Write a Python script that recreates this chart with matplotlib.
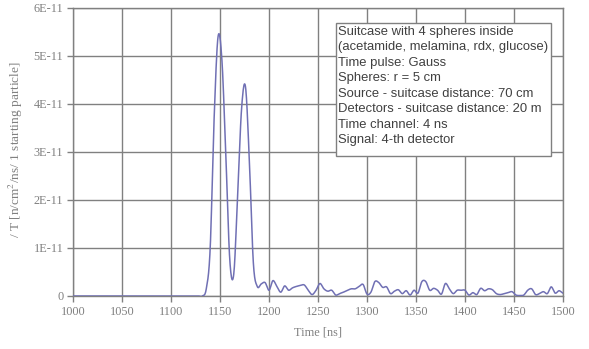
import numpy as np
import matplotlib.pyplot as plt
from matplotlib.patches import Rectangle

plt.rcParams['mathtext.fontset'] = 'stix'

# time channels (4 ns) and signal in units of 1E-11
time_ns = np.arange(1000, 1501, 4)
signal_e11 = [0.0] * 34 + [
    0.15, 1.0, 3.7, 5.4, 4.9, 2.9, 0.75, 0.45, 2.1, 3.9,
    4.36, 2.8, 0.7, 0.2, 0.25, 0.28, 0.12, 0.32, 0.2, 0.08,
    0.21, 0.12, 0.17, 0.2, 0.22, 0.23, 0.12, 0.03, 0.12, 0.26,
    0.15, 0.1, 0.12, 0.02, 0.05, 0.08, 0.12, 0.15, 0.15, 0.2,
    0.24, 0.04, 0.08, 0.3, 0.28, 0.18, 0.19, 0.05, 0.1, 0.13,
    0.05, 0.11, 0.02, 0.12, 0.06, 0.3, 0.3, 0.12, 0.16, 0.12,
    0.04, 0.26, 0.15, 0.05, 0.12, 0.12, 0.12, 0.02, 0.07, 0.03,
    0.16, 0.11, 0.15, 0.13, 0.05, 0.03, 0.05, 0.07, 0.09, 0.02,
    0.01, 0.02, 0.12, 0.15, 0.03, 0.05, 0.09, 0.05, 0.19, 0.06,
    0.11, 0.06,
]
signal = np.array(signal_e11) * 1e-11

y_ticks = [0, 1e-11, 2e-11, 3e-11, 4e-11, 5e-11, 6e-11]
y_tick_labels = ['0', '1E-11', '2E-11', '3E-11', '4E-11', '5E-11', '6E-11']
x_ticks = list(range(1000, 1501, 50))

info_lines = [
    'Suitcase with 4 spheres inside',
    '(acetamide, melamina, rdx, glucose)',
    'Time pulse: Gauss',
    'Spheres: r = 5 cm',
    'Source - suitcase distance: 70 cm',
    'Detectors - suitcase distance: 20 m',
    'Time channel: 4 ns',
    'Signal: 4-th detector',
]


def smooth_line(x, y, n=12):
    # Catmull-Rom curve through the points, like a spreadsheet "smoothed line"
    x = np.asarray(x, float)
    y = np.asarray(y, float)
    px = np.concatenate([[2 * x[0] - x[1]], x, [2 * x[-1] - x[-2]]])
    py = np.concatenate([[y[0]], y, [y[-1]]])
    t = np.linspace(0, 1, n, endpoint=False)
    xs, ys = [], []
    for i in range(1, len(px) - 2):
        for arr, out in ((px, xs), (py, ys)):
            p0, p1, p2, p3 = arr[i - 1], arr[i], arr[i + 1], arr[i + 2]
            out.extend(0.5 * (2 * p1 + (-p0 + p2) * t
                              + (2 * p0 - 5 * p1 + 4 * p2 - p3) * t ** 2
                              + (-p0 + 3 * p1 - 3 * p2 + p3) * t ** 3))
    xs.append(x[-1])
    ys.append(y[-1])
    return np.array(xs), np.array(ys)


W, H = 589, 349
grey = '#808080'
fig = plt.figure(figsize=(W / 100, H / 100), dpi=100)
ax = fig.add_axes([73 / W, 1 - 296 / H, (563 - 73) / W, (296 - 8) / H])

sx, sy = smooth_line(time_ns, signal)
ax.plot(sx, sy, color='#7070b4', lw=1.1, zorder=3)

ax.set_xlim(1000, 1500)
ax.set_ylim(0, 6e-11)
ax.set_xticks(x_ticks)
ax.set_xticklabels([str(v) for v in x_ticks], fontfamily='Liberation Serif', fontsize=8.8, color=grey)
ax.set_yticks(y_ticks)
ax.set_yticklabels(y_tick_labels, fontfamily='Liberation Serif', fontsize=8.8, color=grey)
ax.tick_params(direction='out', length=4, width=1, color=grey, pad=3)
ax.grid(True, color=grey, lw=1)
ax.set_axisbelow(True)
for s in ax.spines.values():
    s.set_color(grey)
    s.set_linewidth(1)

ax.set_xlabel('Time [ns]', fontfamily='Liberation Serif', fontsize=8.8, color=grey, labelpad=6)
fig.text(16 / W, 1 - 150 / H, '/ T [n/cm$^2$/ns/ 1 starting particle]', rotation=90,
         ha='center', va='center', fontfamily='Liberation Serif', fontsize=9.6, color=grey)

# info box
fig.patches.append(Rectangle((336 / W, 1 - 156 / H), (551 - 336) / W, (156 - 22.5) / H,
                             transform=fig.transFigure, fc='white', ec=grey, lw=1, zorder=5))
fig.text(338.5 / W, 1 - 25.5 / H, '\n'.join(info_lines), ha='left', va='top',
         fontfamily='Liberation Sans', fontsize=9.4, color='#404040', linespacing=1.39, zorder=6)

fig.savefig('out.png', dpi=100)
